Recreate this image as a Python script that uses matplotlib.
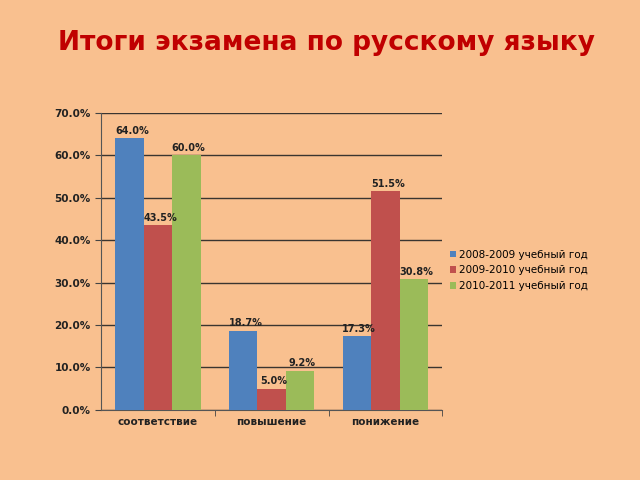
import numpy as np
import matplotlib.pyplot as plt

categories = ["соответствие", "повышение", "понижение"]
series_names = ["2008-2009 учебный год", "2009-2010 учебный год", "2010-2011 учебный год"]
values_0809 = [64.0, 18.7, 17.3]
values_0910 = [43.5, 5.0, 51.5]
values_1011 = [60.0, 9.2, 30.8]
yticks = [0, 10, 20, 30, 40, 50, 60, 70]

bg = "#F9C08F"
colors = ["#4F81BD", "#C0504D", "#9BBB59"]

fig = plt.figure(figsize=(6.4, 4.8), dpi=100, facecolor=bg)
ax = fig.add_axes([0.158, 0.146, 0.533, 0.619], facecolor=bg)

x = np.arange(len(categories))
width = 0.25
for i, (vals, name) in enumerate(zip([values_0809, values_0910, values_1011], series_names)):
    pos = x + (i - 1) * width
    bars = ax.bar(pos, vals, width, color=colors[i], label=name, zorder=3)
    for b, v in zip(bars, vals):
        ax.text(b.get_x() + b.get_width() / 2 + 0.02, v + 0.6, f"{v:.1f}%", ha="center", va="bottom",
                fontsize=7, fontweight="bold", color="#222222", zorder=4)

ax.set_xlim(-0.5, 2.5)
ax.set_ylim(0, 70)
ax.set_yticks(yticks)
ax.set_yticklabels([f"{t:.1f}%" for t in yticks], fontsize=7.5, fontweight="bold", color="#222222")
ax.set_xticks(x)
ax.set_xticklabels(categories, fontsize=7.5, fontweight="bold", color="#222222")
ax.tick_params(axis="x", length=0, pad=5)
ax.set_xticks([0.5, 1.5, 2.5], minor=True)
ax.tick_params(axis="x", which="minor", length=4, color="#444444")
ax.tick_params(axis="y", length=4, color="#444444")
ax.yaxis.grid(True, color="#3a3530", linewidth=1, zorder=0)
for s in ["top", "right"]:
    ax.spines[s].set_visible(False)
for s in ["left", "bottom"]:
    ax.spines[s].set_color("#555555")

ax.legend(loc="center left", bbox_to_anchor=(1.0, 0.47), frameon=False, fontsize=7.5,
          handlelength=0.6, handleheight=0.6, handletextpad=0.3, labelspacing=0.55,
          borderaxespad=0.3)

fig.text(0.51, 0.91, "Итоги экзамена по русскому языку", ha="center", va="center",
         fontsize=19, fontweight="bold", color="#C00000")

fig.savefig("out.png", dpi=100, facecolor=bg)
